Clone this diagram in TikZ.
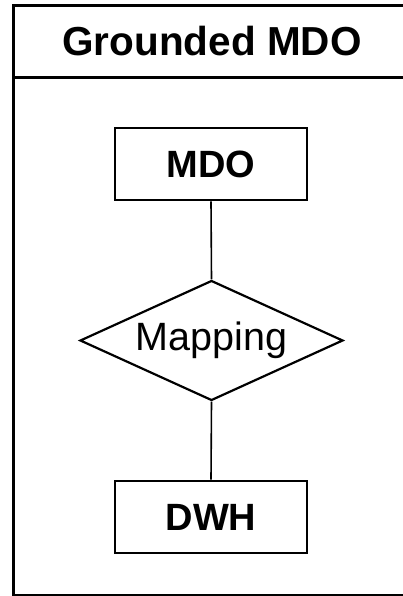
\documentclass[tikz,border=0pt]{standalone}
\usepackage{fontspec}
\setmainfont{Liberation Sans}
\usetikzlibrary{shapes.geometric}
\begin{document}
\begin{tikzpicture}[x=1pt,y=-1pt,
  frame/.style={draw=black,line width=2.8pt},
  entity/.style={draw=black,line width=2.8pt,minimum width=192pt,minimum height=72pt,inner sep=0pt,
    font=\fontsize{38}{40}\selectfont\bfseries},
  relation/.style={draw=black,line width=2.2pt,diamond,minimum width=263pt,minimum height=120pt,
    aspect=2.19,inner sep=0pt,font=\fontsize{39.5}{42}\selectfont},
  link/.style={draw=black,line width=1.6pt}]
\useasboundingbox (0,0) rectangle (403,596);
% outer container with its header band
\draw[frame] (13.5,5.5) rectangle (404.5,595.8);
\draw[frame] (13.5,77.5) -- (404.5,77.5);
\node[font=\fontsize{40.5}{43}\selectfont\bfseries] (title) at (212,41.5) {Grounded MDO};
% entities and the relationship joining them
\node[entity] (mdo) at (211,164) {MDO};
\node[relation] (map) at (211.5,340.5) {Mapping};
\node[entity] (dwh) at (211,517) {DWH};
\draw[link] (mdo.south) -- (map.north);
\draw[link] (map.south) -- (dwh.north);
\end{tikzpicture}
\end{document}
